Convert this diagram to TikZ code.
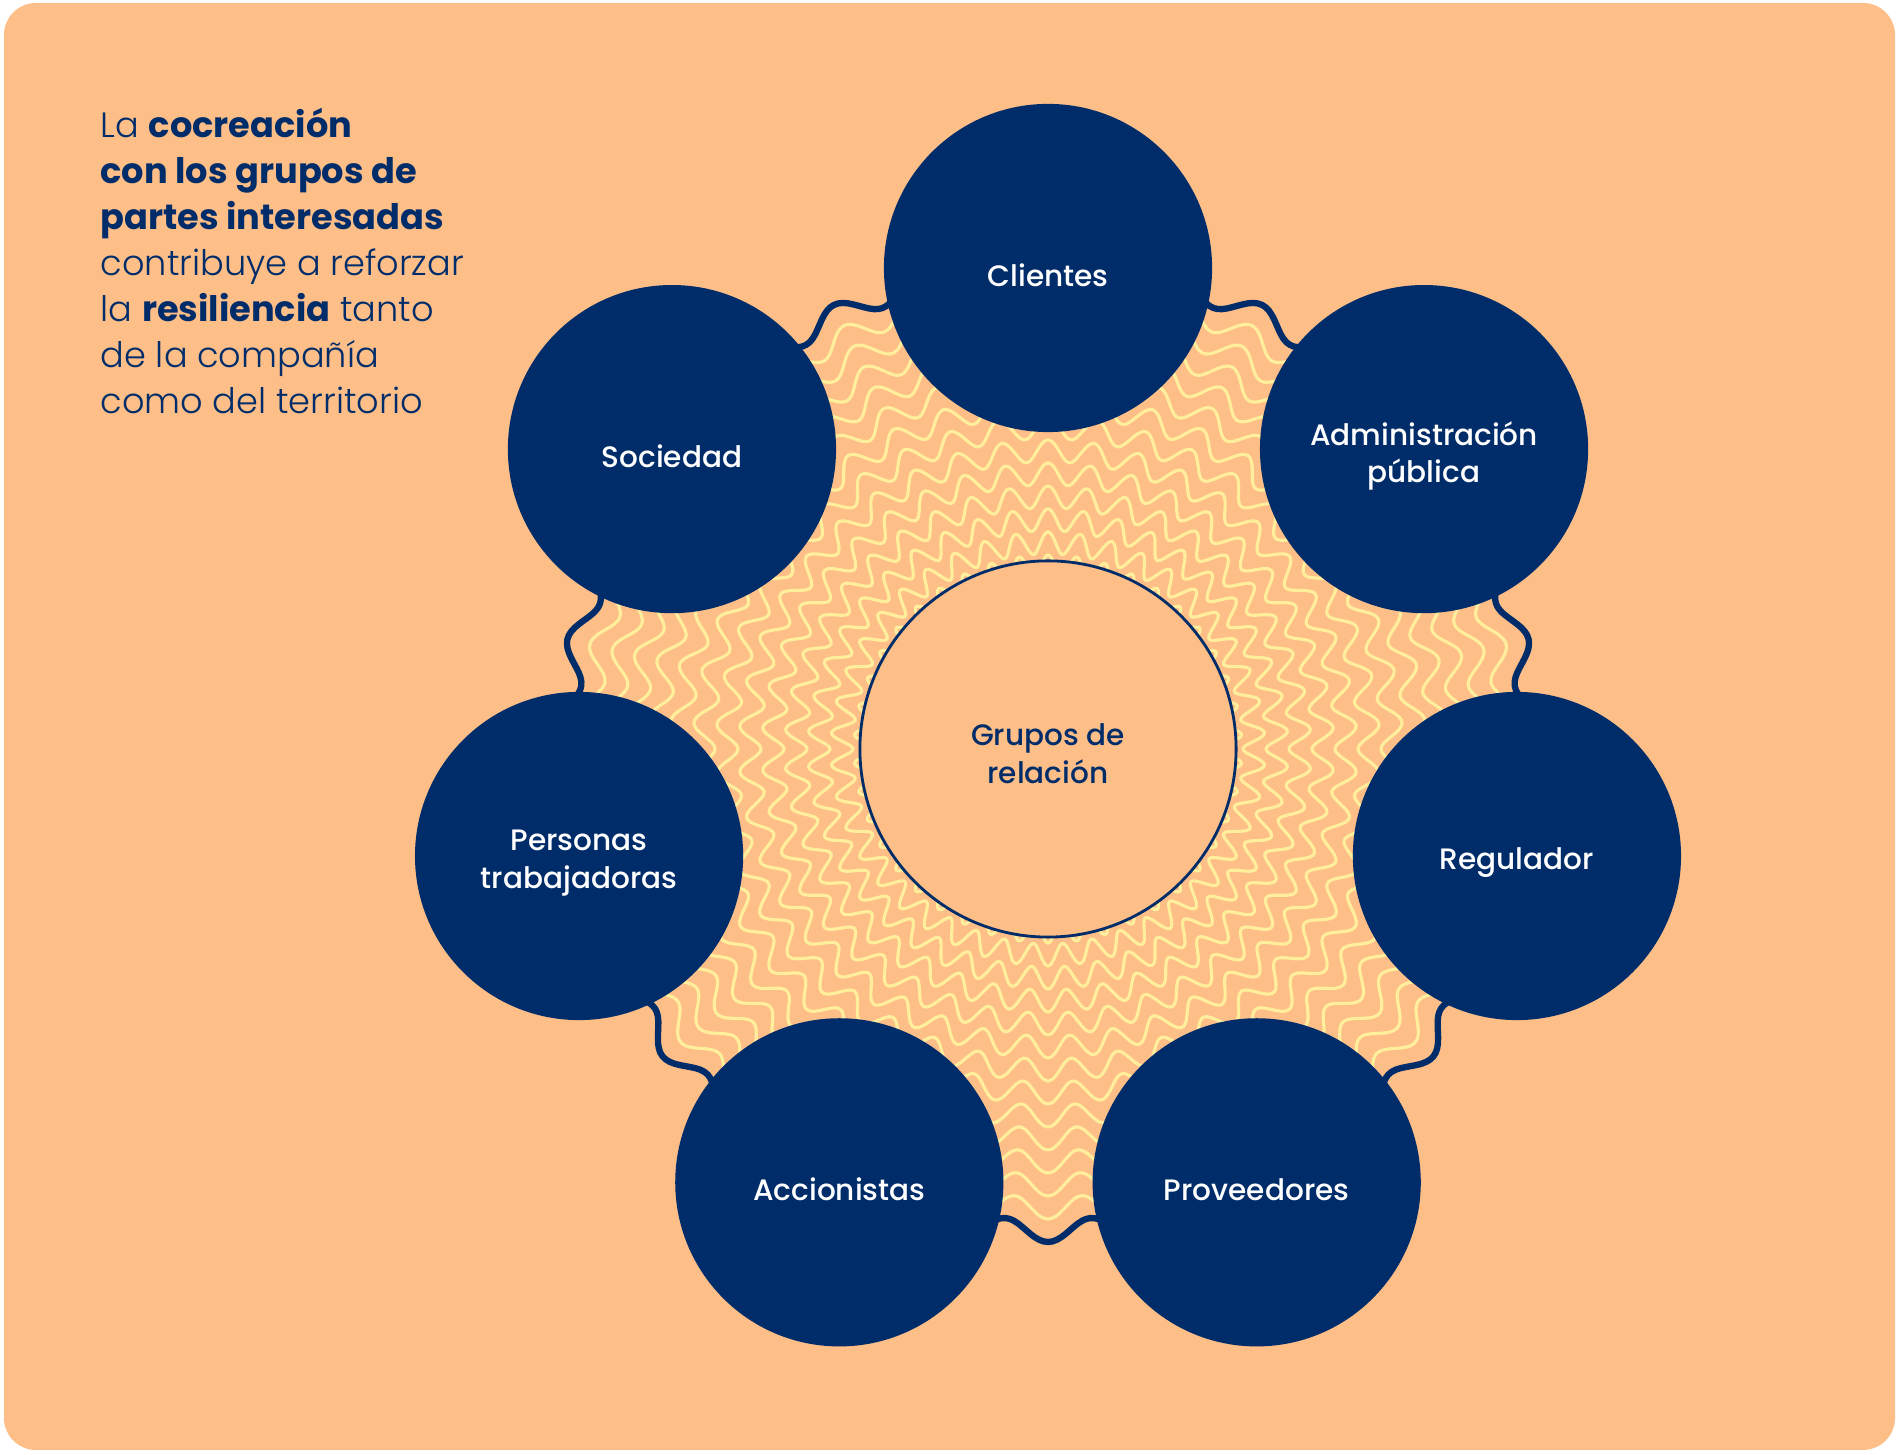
\documentclass[tikz,border=0pt]{standalone}
\usepackage{fontspec}
\usetikzlibrary{calc}
\newfontfamily\lightfont{Poppins Light}
\newfontfamily\boldfont{Poppins Bold}
\newfontfamily\medfont{Poppins Medium}
\definecolor{peach}{HTML}{FDBE88}
\definecolor{navy}{HTML}{002D6A}
\definecolor{wave}{HTML}{FFEE9C}
\tikzset{
	party/.style={circle, fill=navy, minimum size=3.28cm, inner sep=0pt},
	partytext/.style={text=white, align=center, inner sep=0pt, font=\medfont\fontsize{8.4}{10.7}\selectfont},
	hub/.style={circle, draw=navy, line width=0.8pt, fill=peach, minimum size=3.76cm, inner sep=0pt},
	hubtext/.style={text=navy, align=center, inner sep=0pt, font=\medfont\fontsize{8.4}{10.7}\selectfont},
	ripple/.style={wave, line width=0.9pt},
	rim/.style={navy, line width=1.8pt, line join=round},
}
\begin{document}
\begin{tikzpicture}[x=0.01cm, y=0.01cm]
	\useasboundingbox (0,0) rectangle (1900,1455);
	\fill[white] (0,0) rectangle (1900,1455);
	\fill[peach, rounded corners=0.32cm] (4,5) rectangle (1895,1452);
	
	\coordinate (centre) at (1048,706);
	
	% Wavy rings
	\foreach \k in {1,...,13}{
		\draw[ripple, shift={(centre)}] plot[domain=0:360, samples=841] (\x:{482-23*\k-11*cos(42*\x)}) -- cycle;
	}
	\draw[rim, shift={(centre)}] plot[domain=0:360, samples=701] (\x:{482+11*sin(35*\x)}) -- cycle;
	
	% Stakeholder circles
	\foreach \name/\ang/\txt in {clientes/90/Clientes, admin/38.571/{Administración\\pública},
		regulador/-12.857/Regulador, proveedores/-64.286/Proveedores, accionistas/-115.714/Accionistas,
		personas/-167.143/{Personas\\trabajadoras}, sociedad/141.429/Sociedad}{
		\node[party] (\name) at ($(centre)+(\ang:481)$) {};
		\node[partytext] (\name text) at ([yshift=-0.07cm]\name.center) {\txt};
	}
	
	% Centre
	\node[hub] (hub) at (centre) {};
	\node[hubtext] (hub text) at ([yshift=-0.05cm]hub.center) {Grupos de\\relación};
	
	% Lead text
	\node[anchor=base west, align=left, inner sep=0pt, text=navy, font=\lightfont\fontsize{10}{13.1}\selectfont]
		(lead) at (100,1041) {La {\boldfont cocreación}\\{\boldfont con los grupos de}\\{\boldfont partes interesadas}\\contribuye a reforzar\\la {\boldfont resiliencia} tanto\\de la compañía\\como del territorio};
\end{tikzpicture}
\end{document}
